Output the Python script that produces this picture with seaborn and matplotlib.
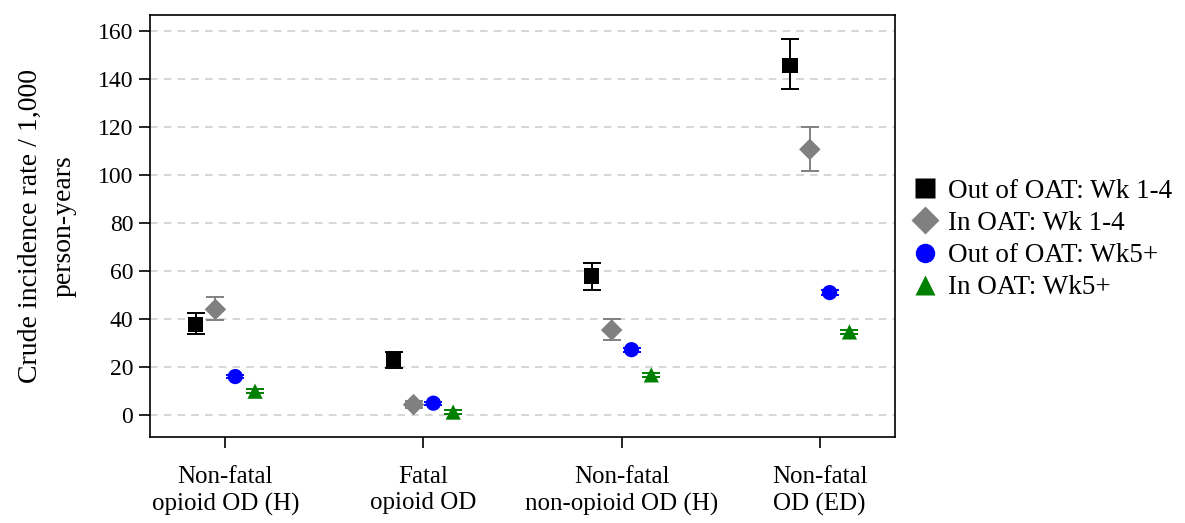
import matplotlib.pyplot as plt
import seaborn as sns
import pandas as pd
import numpy as np

# Категории (исходы) и группы
outcomes = ["Non-fatal\nopioid OD (H)", "Fatal\nopioid OD",
            "Non-fatal\nnon-opioid OD (H)", "Non-fatal\nOD (ED)"]
groups = ["Out of OAT: Wk 1-4", "In OAT: Wk 1-4",
          "Out of OAT: Wk5+", "In OAT: Wk5+"]

# Значения и доверительные интервалы по группам
out_wk14 = [37.8, 23.2, 57.9, 145.8]
out_wk14_lo = [33.6, 19.4, 52.1, 136.0]
out_wk14_hi = [42.6, 26.4, 63.5, 156.5]

in_wk14 = [44.0, 4.3, 35.4, 110.7]
in_wk14_lo = [39.6, 2.8, 31.2, 101.8]
in_wk14_hi = [49.0, 5.9, 39.9, 120.1]

out_wk5 = [16.0, 4.9, 27.2, 51.0]
out_wk5_lo = [15.2, 4.3, 26.3, 50.0]
out_wk5_hi = [16.8, 5.5, 28.1, 52.0]

in_wk5 = [9.9, 1.2, 16.7, 34.6]
in_wk5_lo = [9.0, 0.6, 15.8, 33.6]
in_wk5_hi = [10.8, 2.0, 17.6, 35.6]

values = [out_wk14, in_wk14, out_wk5, in_wk5]
lows = [out_wk14_lo, in_wk14_lo, out_wk5_lo, in_wk5_lo]
highs = [out_wk14_hi, in_wk14_hi, out_wk5_hi, in_wk5_hi]

colors = ["black", "#808080", "blue", "green"]
markers = ["s", "D", "o", "^"]
offsets = [-0.15, -0.05, 0.05, 0.15]

# Собираем таблицу
rows = []
for g, vals, lo, hi, off in zip(groups, values, lows, highs, offsets):
    for i, (v, l, h) in enumerate(zip(vals, lo, hi)):
        rows.append({"group": g, "x": i + off, "rate": v, "lo": l, "hi": h})
df = pd.DataFrame(rows)

sns.set_theme(style="white")
plt.rcParams['font.family'] = ['Liberation Serif', 'DejaVu Serif']
plt.rcParams['text.color'] = 'black'
plt.rcParams['axes.labelcolor'] = 'black'
plt.rcParams['xtick.color'] = 'black'
plt.rcParams['ytick.color'] = 'black'

fig = plt.figure(figsize=(11.85, 5.23), dpi=100)
ax = fig.add_axes([0.1266, 0.1644, 0.6287, 0.8069])

# Сетка
for t in range(0, 161, 20):
    ax.axhline(t, color="#cccccc", linestyle=(0, (5, 4)), linewidth=1.1, zorder=0)

# Доверительные интервалы
for g, c in zip(groups, colors):
    sub = df[df["group"] == g]
    ax.errorbar(sub["x"], sub["rate"],
                yerr=[sub["rate"] - sub["lo"], sub["hi"] - sub["rate"]],
                fmt="none", ecolor=c, elinewidth=1.4, capsize=6.5, capthick=1.4, zorder=2)

sns.scatterplot(data=df, x="x", y="rate", hue="group", style="group",
                palette=dict(zip(groups, colors)), markers=dict(zip(groups, markers)),
                hue_order=groups, style_order=groups, s=120, edgecolor="none",
                ax=ax, zorder=3)

ax.set_xlim(-0.38, 3.38)
ax.set_ylim(-9.2, 166.7)
ax.set_xticks(range(len(outcomes)))
ax.set_xticklabels(outcomes, fontsize=18, linespacing=1.25)
ax.set_yticks(range(0, 161, 20))
ax.tick_params(axis="y", labelsize=17, direction="out", length=8, width=1.2, pad=4, left=True)
ax.tick_params(axis="x", direction="out", length=8, width=1.2, pad=13, bottom=True)
ax.set_xlabel("")
ax.set_ylabel("Crude incidence rate / 1,000\nperson-years", fontsize=20, linespacing=1.5,
              labelpad=15)
for sp in ax.spines.values():
    sp.set_color("black")
    sp.set_linewidth(1.2)

handles, labels = ax.get_legend_handles_labels()
for h in handles:
    h.set_markersize(14)
ax.legend(handles, labels, loc="center left", bbox_to_anchor=(1.008, 0.468),
          frameon=False, fontsize=19.5, handletextpad=0.35, labelspacing=0.27,
          handlelength=1.0, borderaxespad=0)

plt.savefig("out.png", dpi=100)
plt.close()
